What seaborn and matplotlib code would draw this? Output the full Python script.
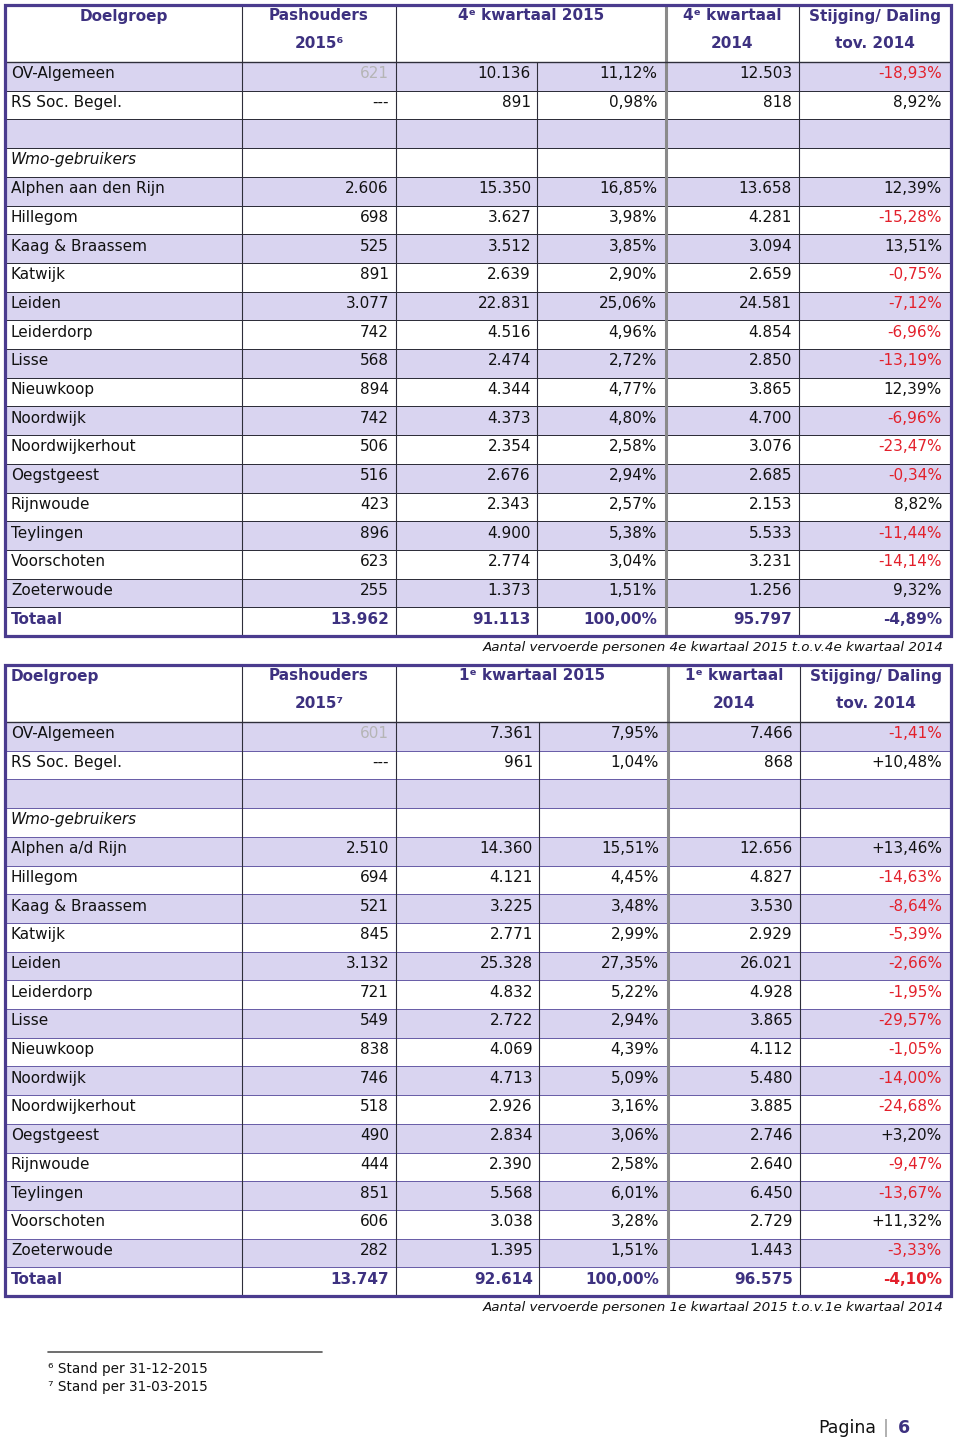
#!/usr/bin/env python3
"""Rebuild the two quarterly Wmo/OV passenger tables (page 6)."""

import matplotlib
matplotlib.use("Agg")
import matplotlib.pyplot as plt
import pandas as pd
import seaborn as sns
from matplotlib.colors import ListedColormap
from matplotlib.patches import Rectangle

W, H = 960, 1439

# --- data -----------------------------------------------------------------
TOP_ROWS = ["OV-Algemeen", "RS Soc. Begel."]
GROUP_LABEL = "Wmo-gebruikers"
TOWNS_Q4 = ["Alphen aan den Rijn", "Hillegom", "Kaag & Braassem", "Katwijk",
            "Leiden", "Leiderdorp", "Lisse", "Nieuwkoop", "Noordwijk",
            "Noordwijkerhout", "Oegstgeest", "Rijnwoude", "Teylingen",
            "Voorschoten", "Zoeterwoude"]
TOWNS_Q1 = ["Alphen a/d Rijn"] + TOWNS_Q4[1:]

HEAD_Q4 = ["Doelgroep", "Pashouders", "2015\u2076", "4\u1d49 kwartaal 2015",
           "4\u1d49 kwartaal", "2014", "Stijging/ Daling", "tov. 2014"]
HEAD_Q1 = ["Doelgroep", "Pashouders", "2015\u2077", "1\u1d49 kwartaal 2015",
           "1\u1d49 kwartaal", "2014", "Stijging/ Daling", "tov. 2014"]

# 4e kwartaal 2015 vs 2014 (first two entries: OV-Algemeen, RS Soc. Begel.)
PAS_Q4 = [621, None, 2606, 698, 525, 891, 3077, 742, 568, 894, 742, 506,
          516, 423, 896, 623, 255]
CNT_Q4_2015 = [10136, 891, 15350, 3627, 3512, 2639, 22831, 4516, 2474, 4344,
               4373, 2354, 2676, 2343, 4900, 2774, 1373]
SHARE_Q4 = [11.12, 0.98, 16.85, 3.98, 3.85, 2.90, 25.06, 4.96, 2.72, 4.77,
            4.80, 2.58, 2.94, 2.57, 5.38, 3.04, 1.51]
CNT_Q4_2014 = [12503, 818, 13658, 4281, 3094, 2659, 24581, 4854, 2850, 3865,
               4700, 3076, 2685, 2153, 5533, 3231, 1256]
CHANGE_Q4 = [-18.93, 8.92, 12.39, -15.28, 13.51, -0.75, -7.12, -6.96, -13.19,
             12.39, -6.96, -23.47, -0.34, 8.82, -11.44, -14.14, 9.32]
TOTAL_Q4 = [13962, 91113, 100.00, 95797, -4.89]

# 1e kwartaal 2015 vs 2014
PAS_Q1 = [601, None, 2510, 694, 521, 845, 3132, 721, 549, 838, 746, 518,
          490, 444, 851, 606, 282]
CNT_Q1_2015 = [7361, 961, 14360, 4121, 3225, 2771, 25328, 4832, 2722, 4069,
               4713, 2926, 2834, 2390, 5568, 3038, 1395]
SHARE_Q1 = [7.95, 1.04, 15.51, 4.45, 3.48, 2.99, 27.35, 5.22, 2.94, 4.39,
            5.09, 3.16, 3.06, 2.58, 6.01, 3.28, 1.51]
CNT_Q1_2014 = [7466, 868, 12656, 4827, 3530, 2929, 26021, 4928, 3865, 4112,
               5480, 3885, 2746, 2640, 6450, 2729, 1443]
CHANGE_Q1 = [-1.41, 10.48, 13.46, -14.63, -8.64, -5.39, -2.66, -1.95, -29.57,
             -1.05, -14.00, -24.68, 3.20, -9.47, -13.67, 11.32, -3.33]
TOTAL_Q1 = [13747, 92614, 100.00, 96575, -4.10]

CAPTION_Q4 = "Aantal vervoerde personen 4e kwartaal 2015 t.o.v.4e kwartaal 2014"
CAPTION_Q1 = "Aantal vervoerde personen 1e kwartaal 2015 t.o.v.1e kwartaal 2014"
FOOTNOTES = ["\u2076 Stand per 31-12-2015", "\u2077 Stand per 31-03-2015"]

# --- style ----------------------------------------------------------------
LAV = "#d9d4f0"
PURPLE = "#4a3b8e"
HEAD_COL = "#3d3180"
RED = "#e3202b"
GREY_NUM = "#b5b5b5"
INK = "#111111"

HEAD_H = 57
ROW_H = 28.7


def fmt_int(v):
    return f"{v:,}".replace(",", ".")


def fmt_pct(v, plus=False):
    s = f"{v:.2f}".replace(".", ",") + "%"
    if plus and v > 0:
        s = "+" + s
    return s


def draw_table(fig, ax, y_top, edges, heads, doel_left, towns, cols, total,
               plus, total_change_col, hline_col, caption):
    names = TOP_ROWS + ["", GROUP_LABEL] + towns + ["Totaal"]
    n = len(names)
    y_body = y_top + HEAD_H
    y_bot = y_body + n * ROW_H

    # banded body rows through a one-column heatmap
    hax = fig.add_axes([edges[0] / W, 1 - y_bot / H,
                        (edges[-1] - edges[0]) / W, (y_bot - y_body) / H])
    bands = pd.DataFrame({"band": [i % 2 for i in range(n)]})
    sns.heatmap(bands, cmap=ListedColormap([LAV, "white"]), vmin=0, vmax=1,
                cbar=False, linewidths=0.6, linecolor=hline_col,
                xticklabels=False, yticklabels=False, ax=hax)
    hax.set_axis_off()

    # vertical rules
    for i, x in enumerate(edges[1:-1], start=1):
        double = i == 4
        col = "#8a8a8a" if double else "#2e2e3a"
        lw = 2.2 if double else 0.8
        ax.plot([x, x], [y_body, y_bot], color=col, lw=lw, zorder=3)
        if i != 3:
            ax.plot([x, x], [y_top, y_body], color=col, lw=lw, zorder=3)
    ax.plot([edges[0], edges[-1]], [y_body, y_body], color="#2e2e3a",
            lw=1.0, zorder=3)
    ax.add_patch(Rectangle((edges[0], y_top), edges[-1] - edges[0],
                           y_bot - y_top, fill=False, ec=PURPLE, lw=2.3,
                           zorder=4))

    # header
    cx = [(edges[i] + edges[i + 1]) / 2 for i in range(len(edges) - 1)]
    hk = dict(color=HEAD_COL, fontsize=11, fontweight="bold", va="center",
              zorder=5)
    if doel_left:
        ax.text(edges[0] + 6, y_top + 11, heads[0], ha="left", **hk)
    else:
        ax.text(cx[0], y_top + 11, heads[0], ha="center", **hk)
    ax.text(cx[1], y_top + 11, heads[1], ha="center", **hk)
    ax.text(cx[1], y_top + 39, heads[2], ha="center", **hk)
    ax.text((edges[2] + edges[4]) / 2, y_top + 11, heads[3], ha="center", **hk)
    ax.text(cx[4], y_top + 11, heads[4], ha="center", **hk)
    ax.text(cx[4], y_top + 39, heads[5], ha="center", **hk)
    ax.text(cx[5], y_top + 11, heads[6], ha="center", **hk)
    ax.text(cx[5], y_top + 39, heads[7], ha="center", **hk)

    # body
    pads = [0, 7, 6, 9, 7, 9]
    rx = [edges[i + 1] - pads[i] for i in range(6)]
    data_rows = [0, 1] + list(range(4, 4 + len(towns)))
    pas, cnt, share, prev, change = cols
    for r, name in enumerate(names):
        yc = y_body + (r + 0.5) * ROW_H - 2.5
        if r == n - 1:
            bk = dict(color=HEAD_COL, fontsize=11, fontweight="bold",
                      va="center", zorder=5)
            ax.text(edges[0] + 6, yc, name, ha="left", **bk)
            vals = [fmt_int(total[0]), fmt_int(total[1]), fmt_pct(total[2]),
                    fmt_int(total[3]), fmt_pct(total[4], plus)]
            for j, s in enumerate(vals):
                c = total_change_col if j == 4 else HEAD_COL
                ax.text(rx[j + 1], yc, s, ha="right", **{**bk, "color": c})
            continue
        style = "italic" if name == GROUP_LABEL else "normal"
        ax.text(edges[0] + 6, yc, name, ha="left", va="center", fontsize=11,
                color=INK, style=style, zorder=5)
        if r not in data_rows:
            continue
        k = data_rows.index(r)
        p = pas[k]
        if p is None:
            ptxt, pcol = "---", INK
        else:
            ptxt, pcol = fmt_int(p), (GREY_NUM if k == 0 else INK)
        vals = [(ptxt, pcol), (fmt_int(cnt[k]), INK),
                (fmt_pct(share[k]), INK), (fmt_int(prev[k]), INK),
                (fmt_pct(change[k], plus), RED if change[k] < 0 else INK)]
        for j, (s, c) in enumerate(vals):
            ax.text(rx[j + 1], yc, s, ha="right", va="center", fontsize=11,
                    color=c, zorder=5)

    ax.text(944, y_bot + 12, caption, ha="right", va="center", fontsize=9.7,
            style="italic", color=INK, zorder=5)


def main():
    sns.set_theme(style="white")
    plt.rcParams["font.family"] = ["DejaVu Sans"]
    fig = plt.figure(figsize=(W / 100, H / 100), dpi=100)
    fig.patch.set_facecolor("white")

    ax = fig.add_axes([0, 0, 1, 1], zorder=10)
    ax.set_xlim(0, W)
    ax.set_ylim(H, 0)
    ax.set_axis_off()
    ax.patch.set_alpha(0)

    draw_table(fig, ax, 5, [5, 242, 396, 537, 666, 799, 951], HEAD_Q4, False,
               TOWNS_Q4, (PAS_Q4, CNT_Q4_2015, SHARE_Q4, CNT_Q4_2014, CHANGE_Q4),
               TOTAL_Q4, False, HEAD_COL, "#2e2e3a", CAPTION_Q4)
    draw_table(fig, ax, 665, [5, 242, 396, 539, 668, 800, 951], HEAD_Q1, True,
               TOWNS_Q1, (PAS_Q1, CNT_Q1_2015, SHARE_Q1, CNT_Q1_2014, CHANGE_Q1),
               TOTAL_Q1, True, RED, "#6a5fa8", CAPTION_Q1)

    # footnotes
    ax.plot([48, 322], [1352, 1352], color="#555555", lw=1.2)
    for i, note in enumerate(FOOTNOTES):
        ax.text(48, 1369 + i * 18, note, ha="left", va="center", fontsize=9.8,
                color=INK)

    # page number
    ax.text(876, 1428, "Pagina", ha="right", va="center", fontsize=12.5,
            color=INK)
    ax.text(886, 1428, "|", ha="center", va="center", fontsize=12.5,
            color="#999999")
    ax.text(898, 1428, "6", ha="left", va="center", fontsize=12.5,
            fontweight="bold", color=HEAD_COL)

    fig.savefig("out.png", dpi=100)
    plt.close(fig)


if __name__ == "__main__":
    main()
